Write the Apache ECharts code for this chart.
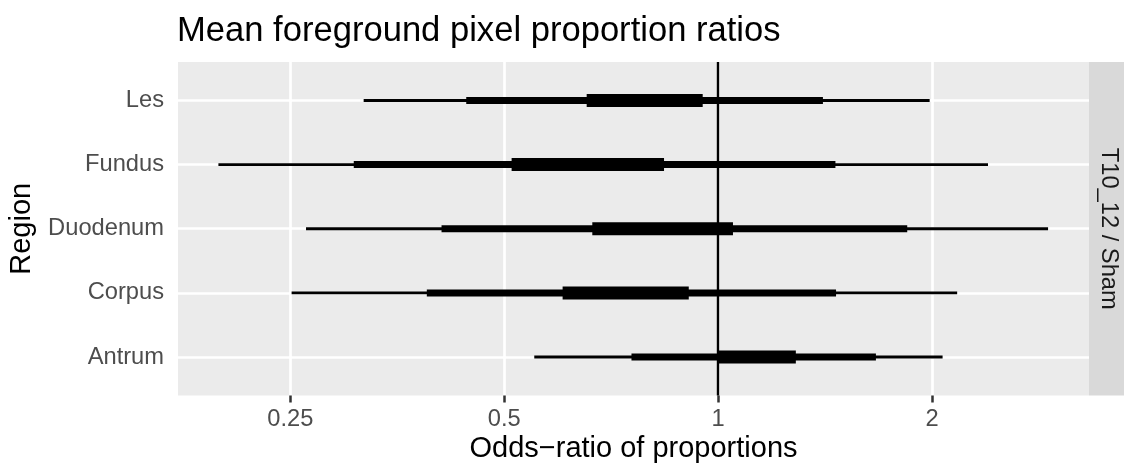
<!DOCTYPE html>
<html>
<head>
<meta charset="utf-8">
<script src="https://cdn.jsdelivr.net/npm/echarts@6/dist/echarts.min.js"></script>
<style>
  html, body { margin: 0; padding: 0; background: #fff; }
  #chart { width: 1125px; height: 467px; }
</style>
</head>
<body>
<div id="chart"></div>
<script>
// regions, bottom to top
const regions = ["Antrum", "Corpus", "Duodenum", "Fundus", "Les"];
// interval bounds on the odds-ratio scale, same order as regions
const lo95 = [0.551, 0.251, 0.263, 0.198, 0.317];
const hi95 = [2.069, 2.169, 2.912, 2.397, 1.984];
const lo80 = [0.755, 0.389, 0.408, 0.307, 0.442];
const hi80 = [1.667, 1.465, 1.845, 1.462, 1.404];
const lo50 = [0.997, 0.604, 0.665, 0.512, 0.653];
const hi50 = [1.286, 0.909, 1.049, 0.839, 0.951];
const xTicks = [0.25, 0.5, 1, 2];
const xLimits = [0.1737, 3.325];
const refLine = 1;
const facetLabel = "T10_12 / Sham";

const FONT = "'Liberation Sans', Arial, sans-serif";
const chart = echarts.init(document.getElementById("chart"));

// one horizontal bar per region, drawn between lo and hi (log2 scale)
function intervalSeries(name, lo, hi, thickness) {
  return {
    name: name,
    type: "custom",
    silent: true,
    renderItem: (params, api) => {
      const start = api.coord([api.value(0), api.value(2)]);
      const end = api.coord([api.value(1), api.value(2)]);
      return {
        type: "rect",
        shape: {
          x: start[0],
          y: start[1] - thickness / 2,
          width: end[0] - start[0],
          height: thickness,
        },
        style: { fill: "#000" },
      };
    },
    encode: { x: [0, 1], y: 2 },
    data: regions.map((r, i) => [Math.log2(lo[i]), Math.log2(hi[i]), i + 1]),
  };
}

const s95 = intervalSeries("95%", lo95, hi95, 2.8);
s95.markLine = {
  silent: true,
  symbol: "none",
  label: { show: false },
  lineStyle: { color: "#000", width: 2.4, type: "solid" },
  data: [{ xAxis: Math.log2(refLine) }],
};

const option = {
  animation: false,
  title: {
    text: "Mean foreground pixel proportion ratios",
    left: 177,
    top: 14,
    padding: 0,
    textStyle: { fontFamily: FONT, fontSize: 34.6, lineHeight: 34, fontWeight: "normal", color: "#000" },
  },
  grid: {
    left: 178,
    right: 36,
    top: 62,
    bottom: 71.5,
    show: true,
    backgroundColor: "#EBEBEB",
    borderWidth: 0,
  },
  xAxis: {
    type: "value",
    min: Math.log2(xLimits[0]),
    max: Math.log2(xLimits[1]),
    axisLine: { show: false },
    axisTick: {
      show: true,
      length: 7,
      lineStyle: { color: "#333333", width: 2.5 },
      customValues: xTicks.map(Math.log2),
    },
    axisLabel: {
      customValues: xTicks.map(Math.log2),
      formatter: (v) => String(Math.pow(2, v)),
      margin: 12,
      fontFamily: FONT,
      fontSize: 23.7,
      color: "#4D4D4D",
    },
    splitLine: { show: true, lineStyle: { color: "#fff", width: 2.7 } },
  },
  yAxis: {
    type: "value",
    min: 0.4,
    max: regions.length + 0.6,
    axisLine: { show: false },
    axisTick: { show: false, customValues: regions.map((r, i) => i + 1) },
    axisLabel: {
      customValues: regions.map((r, i) => i + 1),
      formatter: (v) => regions[Math.round(v) - 1],
      margin: 14,
      fontFamily: FONT,
      fontSize: 23.7,
      color: "#4D4D4D",
    },
    splitLine: { show: true, lineStyle: { color: "#fff", width: 2.7 } },
  },
  graphic: [
    {
      type: "rect",
      shape: { x: 1089, y: 62, width: 35, height: 333.5 },
      style: { fill: "#D9D9D9" },
    },
    {
      type: "text",
      x: 1109,
      y: 228.75,
      rotation: -Math.PI / 2,
      style: {
        text: facetLabel,
        font: "23.7px " + FONT,
        fill: "#1A1A1A",
        textAlign: "center",
        textVerticalAlign: "middle",
      },
    },
    {
      type: "text",
      x: 22,
      y: 228.75,
      rotation: Math.PI / 2,
      style: {
        text: "Region",
        font: "29px " + FONT,
        fill: "#000",
        textAlign: "center",
        textVerticalAlign: "middle",
      },
    },
    {
      type: "text",
      x: 633.5,
      y: 449,
      style: {
        text: "Odds\u2212ratio of proportions",
        font: "29px " + FONT,
        fill: "#000",
        textAlign: "center",
        textVerticalAlign: "middle",
      },
    },
  ],
  series: [
    s95,
    intervalSeries("80%", lo80, hi80, 7),
    intervalSeries("50%", lo50, hi50, 13),
  ],
};

chart.setOption(option);
window.addEventListener("resize", () => {
  chart.resize();
});
</script>
</body>
</html>
